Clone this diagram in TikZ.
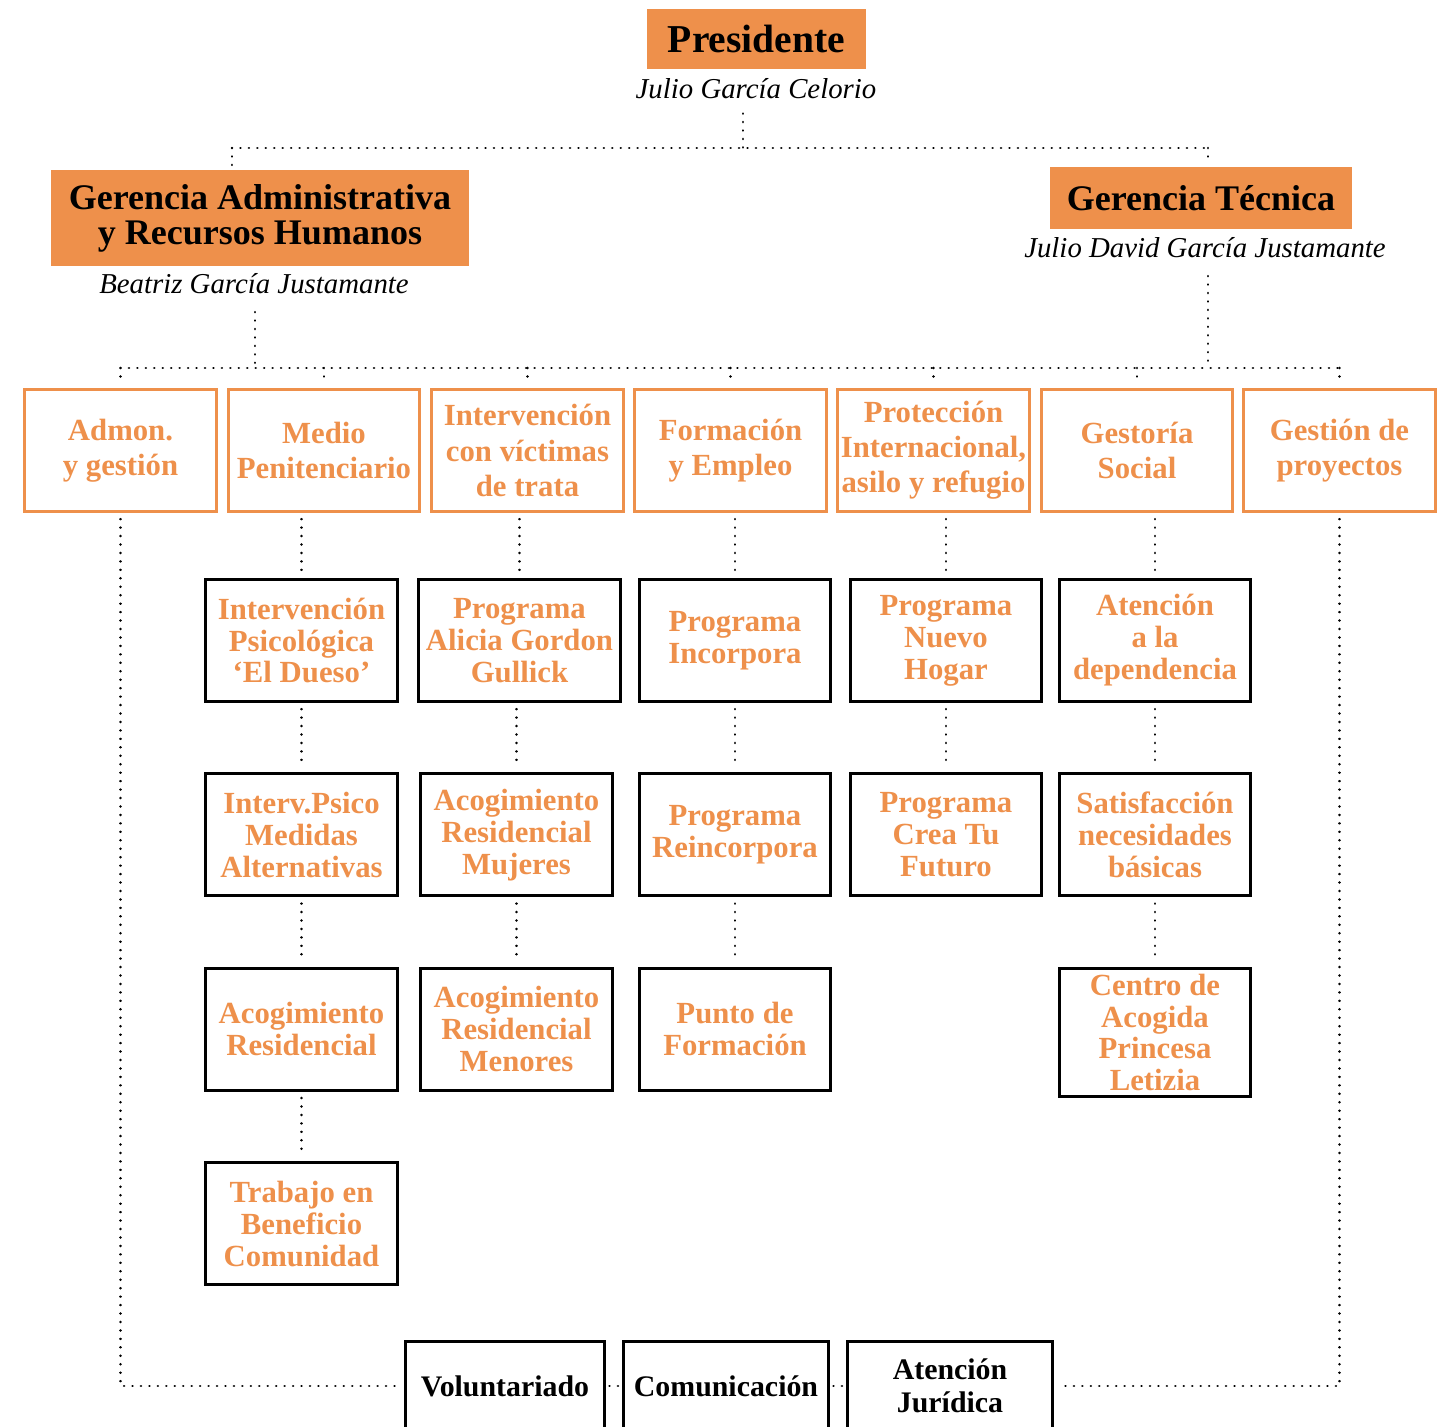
\documentclass[tikz,border=0pt]{standalone}
\usepackage{fontspec}
\setmainfont{Liberation Serif}
\usepackage{xcolor}
\usepackage{tikz}
\usetikzlibrary{positioning}

\definecolor{naranja}{RGB}{238,144,75}

\begin{document}
\begin{tikzpicture}[
        x=0.02cm, y=-0.02cm,
        node distance=1.39cm,
        % Cajas de la dirección
        jefe/.style={
            rectangle,
            fill=naranja,
            align=center,
            inner sep=2pt,
            font=\bfseries\fontsize{20.5}{20}\selectfont
        },
        % Nombres bajo las cajas
        nombre/.style={
            font=\itshape\fontsize{16.4}{18}\selectfont,
            inner sep=2pt
        },
        % Áreas (borde naranja)
        area/.style={
            rectangle,
            draw=naranja,
            line width=1.7pt,
            minimum width=3.84cm,
            minimum height=2.44cm,
            align=center,
            text=naranja,
            inner sep=1pt,
            font=\bfseries\fontsize{17.5}{20}\selectfont
        },
        % Programas (borde negro)
        prog/.style={
            rectangle,
            draw=black,
            line width=1.7pt,
            minimum width=3.84cm,
            minimum height=2.44cm,
            align=center,
            text=naranja,
            inner sep=3pt,
            font=\bfseries\fontsize{17.5}{18.2}\selectfont
        },
        % Servicios comunes (abajo)
        apoyo/.style={
            prog,
            text=black,
            minimum height=1.8cm,
            font=\bfseries\fontsize{17}{19}\selectfont
        },
        % Líneas de puntos
        linea/.style={
            line width=1.5pt,
            line cap=round,
            dash pattern=on 0.01pt off 4.8pt
        },
        corta/.style={linea, shorten <=3.5pt, shorten >=3.5pt}
    ]

    \clip (0,0) rectangle (1455,1427);

    % --- DIRECCIÓN ---
    \node [jefe, minimum width=4.4cm, minimum height=1.2cm, font=\bfseries\fontsize{22.5}{24}\selectfont] (pres) at (756.5,39) {Presidente};
    \node [nombre] (npres) at (756,89) {Julio García Celorio};

    \node [jefe, minimum width=8.36cm, minimum height=1.92cm] (gadm) at (260,218) {Gerencia Administrativa\\y Recursos Humanos};
    \node [nombre] (nadm) at (254,284) {Beatriz García Justamante};

    \node [jefe, minimum width=6.04cm, minimum height=1.24cm] (gtec) at (1201,198) {Gerencia Técnica};
    \node [nombre] (ntec) at (1205,248) {Julio David García Justamante};

    % --- ÁREAS ---
    \node [area] (admon) at (120.5,450.5) {Admon.\\y gestión};
    \node [area] (medio) at (324,450.5) {Medio\\Penitenciario};
    \node [area] (trata) at (527.5,450.5) {Intervención\\con víctimas\\de trata};
    \node [area] (forma) at (730.5,450.5) {Formación\\y Empleo};
    \node [area] (prote) at (933.5,450.5) {Protección\\Internacional,\\asilo y refugio};
    \node [area] (gesto) at (1137,450.5) {Gestoría\\Social};
    \node [area] (gproy) at (1339.5,450.5) {Gestión de\\proyectos};

    % --- PROGRAMAS ---
    \node [prog] (dueso) at (301.5,640.5) {Intervención\\Psicológica\\‘El Dueso’};
    \node [prog, below=of dueso] (medidas) {Interv.Psico\\Medidas\\Alternativas};
    \node [prog, below=of medidas] (acores) {Acogimiento\\Residencial};
    \node [prog, below=of acores] (tbc) {Trabajo en\\Beneficio\\Comunidad};

    \node [prog, minimum width=4.04cm] (alicia) at (519.5,640.5) {Programa\\Alicia Gordon\\Gullick};
    \node [prog, below=of alicia, xshift=-0.06cm] (mujeres) {Acogimiento\\Residencial\\Mujeres};
    \node [prog, below=of mujeres] (menores) {Acogimiento\\Residencial\\Menores};

    \node [prog] (incorp) at (735,640.5) {Programa\\Incorpora};
    \node [prog, below=of incorp] (reinc) {Programa\\Reincorpora};
    \node [prog, below=of reinc] (punto) {Punto de\\Formación};

    \node [prog] (hogar) at (946,640.5) {Programa\\Nuevo\\Hogar};
    \node [prog, below=of hogar] (futuro) {Programa\\Crea Tu\\Futuro};

    \node [prog] (depen) at (1155,640.5) {Atención\\a la\\dependencia};
    \node [prog, below=of depen] (necesi) {Satisfacción\\necesidades\\básicas};
    \node [prog, below=of necesi] (letizia) {Centro de\\Acogida\\Princesa\\Letizia};

    % --- SERVICIOS COMUNES ---
    \node [apoyo, minimum width=3.98cm] (volun) at (505,1386) {Voluntariado};
    \node [apoyo, minimum width=4.1cm] (comun) at (726,1386) {Comunicación};
    \node [apoyo, minimum width=4.1cm] (juri) at (950,1386) {Atención\\Jurídica};

    % --- LÍNEAS ---
    \coordinate (jpres) at (743,148);
    \coordinate (jadm) at (232,148);
    \coordinate (jtec) at (1208,148);
    \coordinate (fila) at (255,368);
    \coordinate (filb) at (1208,368);

    \draw [linea, shorten <=6pt] (npres.south -| jpres) -- (jpres);
    \draw [linea] (jadm) -- (jtec);
    \draw [linea, shorten >=1pt] (jadm) -- (jadm |- gadm.north);
    \draw [linea, shorten >=1pt] (jtec) -- (jtec |- gtec.north);

    \draw [linea, shorten <=8pt] (nadm.south -| fila) -- (fila);
    \draw [linea, shorten <=8pt] (ntec.south -| filb) -- (filb);
    \draw [linea] (admon.north |- fila) -- (gproy.north |- fila);
    \foreach \n in {admon, medio, trata, forma, prote, gesto, gproy}
        \draw [linea, shorten >=2pt] (\n.north |- fila) -- (\n.north);

    \draw [corta] (dueso.north |- medio.south) -- (dueso.north);
    \draw [corta] (dueso) -- (medidas);
    \draw [corta] (medidas) -- (acores);
    \draw [corta] (acores) -- (tbc);

    \draw [corta] (alicia.north |- trata.south) -- (alicia.north);
    \draw [corta] (alicia.south -| mujeres) -- (mujeres.north);
    \draw [corta] (mujeres) -- (menores);

    \draw [corta] (incorp.north |- forma.south) -- (incorp.north);
    \draw [corta] (incorp) -- (reinc);
    \draw [corta] (reinc) -- (punto);

    \draw [corta] (hogar.north |- prote.south) -- (hogar.north);
    \draw [corta] (hogar) -- (futuro);

    \draw [corta] (depen.north |- gesto.south) -- (depen.north);
    \draw [corta] (depen) -- (necesi);
    \draw [corta] (necesi) -- (letizia);

    \draw [linea, shorten <=3.5pt, shorten >=2pt] (admon.south) |- (volun.west);
    \draw [linea, shorten <=3.5pt, shorten >=2pt] (gproy.south) |- (juri.east);
    \draw [linea, shorten <=2pt, shorten >=2pt] (volun.east) -- (comun.west);
    \draw [linea, shorten <=2pt, shorten >=2pt] (comun.east) -- (juri.west);

\end{tikzpicture}
\end{document}
